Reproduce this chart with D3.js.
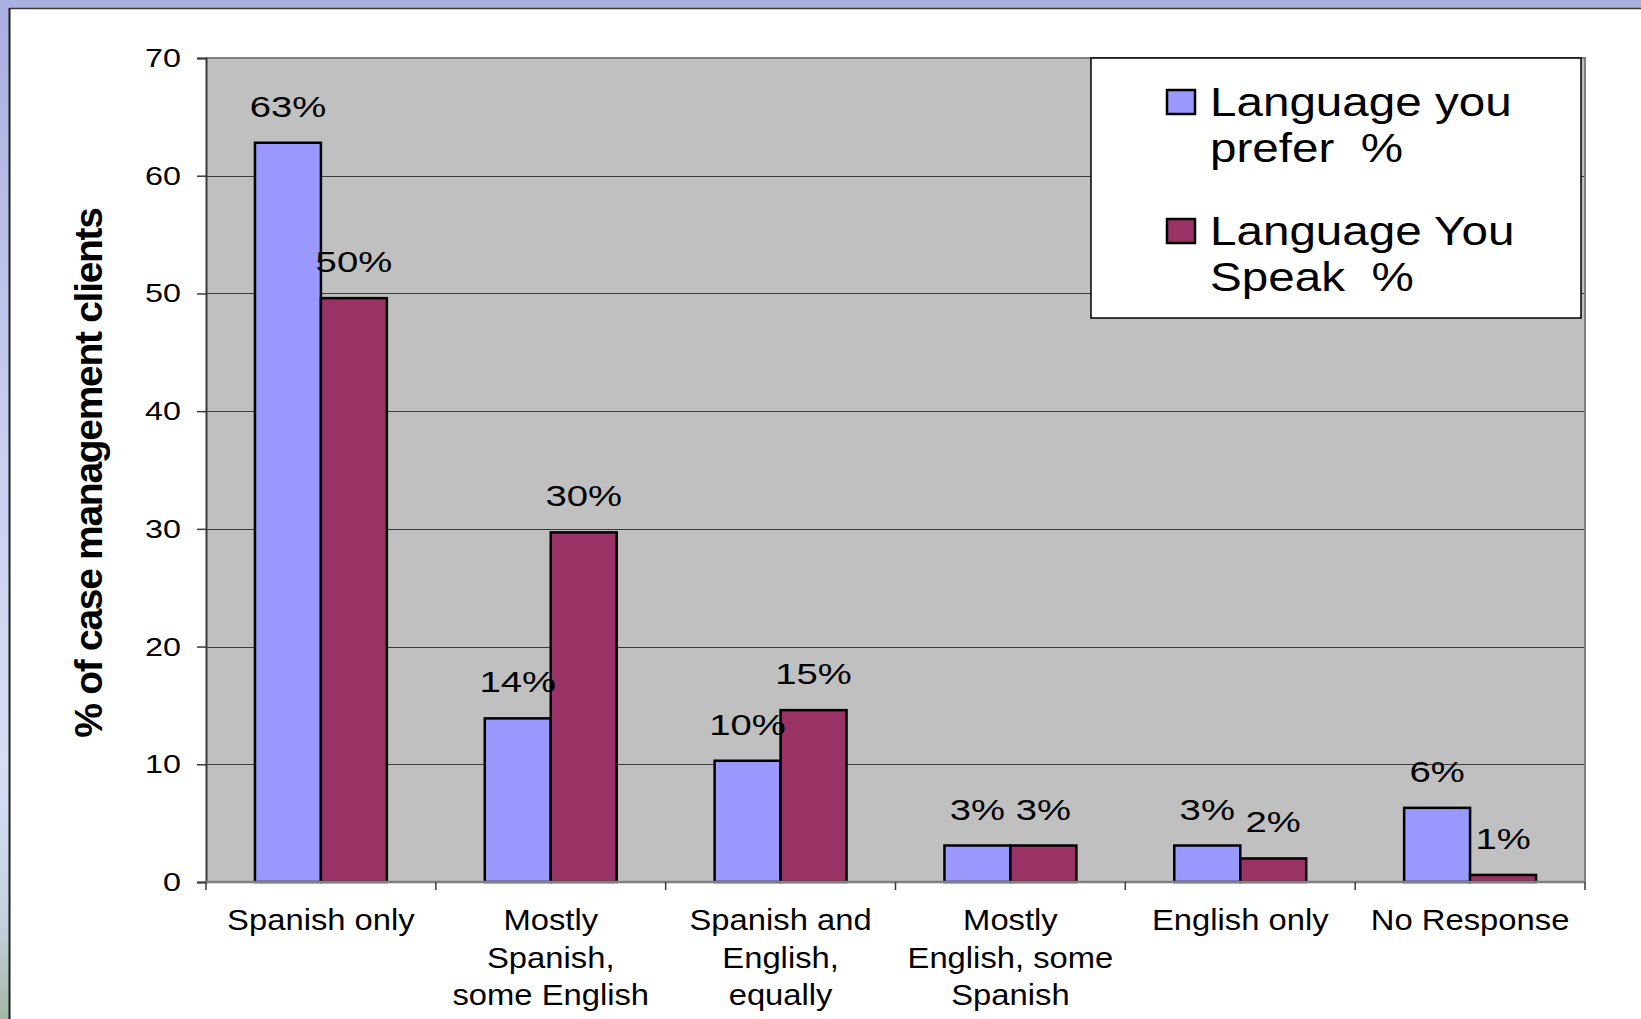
<!DOCTYPE html>
<html>
<head>
<meta charset="utf-8">
<script src="https://cdn.jsdelivr.net/npm/d3@7"></script>
<style>
  html, body { margin: 0; padding: 0; background: #ffffff; }
  svg { display: block; }
  text { font-family: "Liberation Sans", Arial, Helvetica, sans-serif; fill: #000; }
</style>
</head>
<body>
<svg id="chart" width="1641" height="1019"></svg>
<script>
// Survey answers: language preferred vs. language spoken, % of case management clients
const categories = [
  "Spanish only",
  "Mostly\nSpanish,\nsome English",
  "Spanish and\nEnglish,\nequally",
  "Mostly\nEnglish, some\nSpanish",
  "English only",
  "No Response"
];
const seriesNames = ["Language you\nprefer  %", "Language You\nSpeak  %"];
const preferValues = [62.8, 13.9, 10.3, 3.1, 3.1, 6.3];
const speakValues = [49.6, 29.7, 14.6, 3.1, 2.0, 0.6];
const yTicks = [0, 10, 20, 30, 40, 50, 60, 70];
const yTitle = "% of case management clients";

const W = 1641, H = 1019;
const plot = { left: 206, right: 1585, top: 58, bottom: 882 };
const colors = ["#9999ff", "#993366"];

const svg = d3.select("#chart");
const defs = svg.append("defs");

// Slide frame: tinted strips along the top and left edges
const grad = defs.append("linearGradient")
  .attr("id", "sideStrip").attr("x1", 0).attr("y1", 0).attr("x2", 0).attr("y2", 1);
[[0, "#a9aee0"], [0.45, "#c9d0f0"], [0.75, "#d6def4"], [0.9, "#c6d2e2"], [1, "#a2b8a6"]]
  .forEach(([o, c]) => grad.append("stop").attr("offset", o).attr("stop-color", c));

svg.append("rect").attr("width", W).attr("height", H).attr("fill", "#ffffff");
svg.append("rect").attr("x", 0).attr("y", 0).attr("width", 10).attr("height", H).attr("fill", "url(#sideStrip)");
svg.append("rect").attr("x", 0).attr("y", 0).attr("width", W).attr("height", 8).attr("fill", "#abb0e0");
svg.append("line").attr("x1", 9).attr("x2", W).attr("y1", 8.5).attr("y2", 8.5)
  .attr("stroke", "#3a3a3a").attr("stroke-width", 1.5);
svg.append("line").attr("x1", 9.5).attr("x2", 9.5).attr("y1", 8).attr("y2", H)
  .attr("stroke", "#1e1e1e").attr("stroke-width", 2);

// Scales
const x0 = d3.scaleBand().domain(categories).range([plot.left, plot.right])
  .paddingInner(0.426).paddingOuter(0.213);
const x1 = d3.scaleBand().domain([0, 1]).range([0, x0.bandwidth()]);
const y = d3.scaleLinear().domain([0, 70]).range([plot.bottom, plot.top]);

// Plot background
svg.append("rect")
  .attr("x", plot.left).attr("y", plot.top)
  .attr("width", plot.right - plot.left).attr("height", plot.bottom - plot.top)
  .attr("fill", "#c0c0c0");

// Horizontal gridlines
svg.append("g").selectAll("line")
  .data(yTicks.filter(t => t > 0 && t < 70))
  .join("line")
  .attr("x1", plot.left).attr("x2", plot.right)
  .attr("y1", d => Math.round(y(d)) + 0.5).attr("y2", d => Math.round(y(d)) + 0.5)
  .attr("stroke", "#3c3c3c").attr("stroke-width", 1.2);

// Plot border (top / right)
svg.append("path")
  .attr("d", `M${plot.left},${plot.top}H${plot.right}V${plot.bottom}`)
  .attr("fill", "none").attr("stroke", "#808080").attr("stroke-width", 2);

// Bars
const rows = categories.map((c, i) => ({ cat: c, vals: [preferValues[i], speakValues[i]] }));
const groups = svg.append("g").selectAll("g")
  .data(rows).join("g")
  .attr("transform", d => `translate(${x0(d.cat)},0)`);

groups.selectAll("rect")
  .data(d => d.vals.map((v, k) => ({ v, k })))
  .join("rect")
  .attr("x", d => x1(d.k))
  .attr("y", d => y(d.v))
  .attr("width", x1.bandwidth())
  .attr("height", d => y(0) - y(d.v))
  .attr("fill", d => colors[d.k])
  .attr("stroke", "#000").attr("stroke-width", 2.5);

// Text helper with horizontal stretch
function stretchedText(parent, x, yy, str, size, sx, anchor, weight) {
  const g = parent.append("g").attr("transform", `translate(${x},${yy})`);
  const t = g.append("text")
    .attr("transform", `scale(${sx},1)`)
    .attr("text-anchor", anchor || "middle")
    .style("font-size", size + "px")
    .style("white-space", "pre")
    .text(str);
  if (weight) t.style("font-weight", weight);
  return t;
}

// Value labels above each bar
const labelLayer = svg.append("g");
rows.forEach(r => {
  r.vals.forEach((v, k) => {
    const cx = x0(r.cat) + x1(k) + x1.bandwidth() / 2;
    stretchedText(labelLayer, cx, y(v) - 26, d3.format(".0f")(v) + "%", 29, 1.32, "middle");
  });
});

// Y axis
const yAxis = svg.append("g")
  .attr("transform", `translate(${plot.left},0)`)
  .call(d3.axisLeft(y).tickValues(yTicks).tickSize(9).tickFormat(d3.format("d")));
yAxis.select(".domain").attr("stroke", "#3a3a3a").attr("stroke-width", 2);
yAxis.selectAll(".tick line").attr("stroke", "#3a3a3a").attr("stroke-width", 1.5);
yAxis.selectAll(".tick text")
  .attr("x", -25 / 1.22)
  .attr("transform", "scale(1.22,1)")
  .style("font-size", "26.5px")
  .style("font-family", "'Liberation Sans', Arial, sans-serif")
  .attr("fill", "#000");

// X axis line and category separators
svg.append("line")
  .attr("x1", plot.left).attr("x2", plot.right)
  .attr("y1", plot.bottom).attr("y2", plot.bottom)
  .attr("stroke", "#808080").attr("stroke-width", 2.5);
svg.append("g").selectAll("line")
  .data(d3.range(categories.length + 1))
  .join("line")
  .attr("x1", i => plot.left + i * x0.step()).attr("x2", i => plot.left + i * x0.step())
  .attr("y1", plot.bottom).attr("y2", plot.bottom + 8)
  .attr("stroke", "#3a3a3a").attr("stroke-width", 1.5);

// Category labels
const catLayer = svg.append("g");
categories.forEach(c => {
  const cx = x0(c) + x0.bandwidth() / 2;
  c.split("\n").forEach((line, j) => {
    stretchedText(catLayer, cx, 930 + j * 37.5, line, 29, 1.13, "middle");
  });
});

// Y title
svg.append("text")
  .attr("transform", `translate(102,473) rotate(-90)`)
  .attr("text-anchor", "middle")
  .style("font-size", "39px")
  .style("font-weight", "bold")
  .style("letter-spacing", "-1.3px")
  .text(yTitle);

// Legend
const legend = svg.append("g");
legend.append("rect")
  .attr("x", 1091).attr("y", 58).attr("width", 490).attr("height", 260)
  .attr("fill", "#ffffff").attr("stroke", "#000").attr("stroke-width", 1.5);
seriesNames.forEach((name, k) => {
  const top = 90 + k * 129;
  legend.append("rect")
    .attr("x", 1167).attr("y", top).attr("width", 28).attr("height", 24)
    .attr("fill", colors[k]).attr("stroke", "#000").attr("stroke-width", 2.5);
  name.split("\n").forEach((line, j) => {
    stretchedText(legend, 1210, top + 26 + j * 45.5, line, 40, 1.19, "start");
  });
});
</script>
</body>
</html>
